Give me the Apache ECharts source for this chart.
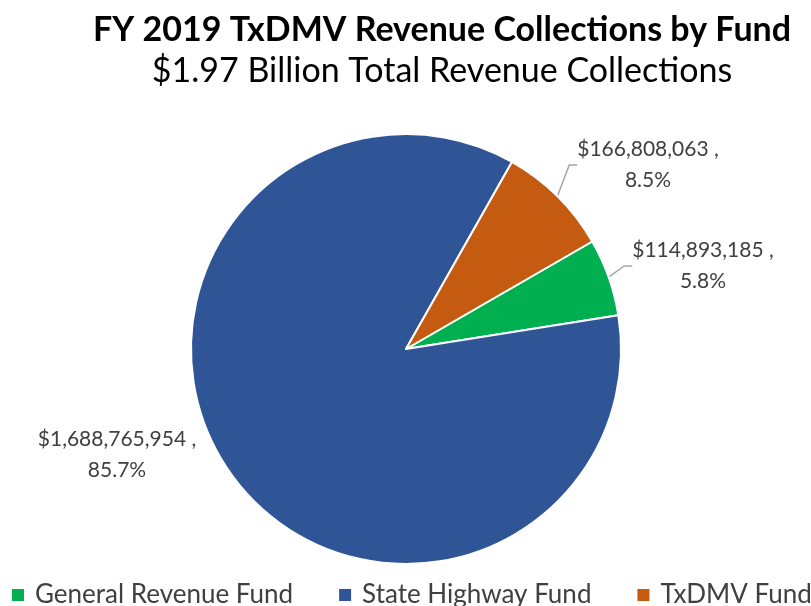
<!doctype html>
<html><head><meta charset="utf-8"></head>
<body style="margin:0; width:811px; height:606px; background:#fff">
<div id="container" style="width:811px; height:606px"></div>
<script src="https://cdn.jsdelivr.net/npm/echarts@6/dist/echarts.min.js"></script>
<script>
// fund names and FY2019 collections (dollars)
var funds = ['General Revenue Fund', 'State Highway Fund', 'TxDMV Fund'];
var amounts = [114893185, 1688765954, 166808063];
var colors = ['#00B050', '#2F5597', '#C55A11'];
// label block centres, same order as funds
var labelPos = [[703, 266], [117, 455], [648, 165]];

var myChart = echarts.init(document.getElementById('container'));
var font = 'Lato';

function money(v) {
    return '$' + v.toString().replace(/\B(?=(\d{3})+(?!\d))/g, ',');
}

var option = {
    animation: false,
    title: {
        text: 'FY 2019 TxDMV Revenue Collections by Fund',
        subtext: '$1.97 Billion Total Revenue Collections',
        left: 437, textAlign: 'center', top: 8, itemGap: 7,
        textStyle: {fontFamily: font, fontSize: 34, fontWeight: 'bold', color: '#000'},
        subtextStyle: {fontFamily: font, fontSize: 34, color: '#000'}
    },
    legend: {
        data: funds,
        left: 12, bottom: -2, width: 1000, padding: 0,
        icon: 'rect', itemWidth: 12, itemHeight: 12, itemGap: 46,
        itemStyle: {borderWidth: 0},
        textStyle: {fontFamily: font, fontSize: 26, color: '#404040', padding: [0, 0, 0, 6]}
    },
    color: colors,
    series: [{
        type: 'pie',
        center: [406, 349],
        radius: 215,
        startAngle: 30,
        clockwise: true,
        percentPrecision: 1,
        itemStyle: {borderColor: '#fff', borderWidth: 2},
        label: {
            position: 'outside',
            fontFamily: font, fontSize: 21, color: '#404040',
            lineHeight: 31, align: 'center',
            formatter: function (p) {
                return money(p.value) + ' ,\n' + p.percent.toFixed(1) + '%';
            }
        },
        labelLine: {show: true, length: 8, length2: 8, smooth: false,
            lineStyle: {color: '#A6A6A6', width: 1.5}},
        labelLayout: function (p) {
            var pos = labelPos[p.dataIndex];
            return {x: pos[0], y: pos[1], align: 'center', verticalAlign: 'middle'};
        },
        data: funds.map(function (f, i) {
            var d = {name: f, value: amounts[i]};
            if (i === 1) d.labelLine = {show: false};
            return d;
        })
    }]
};
myChart.setOption(option);
</script>
</body></html>
